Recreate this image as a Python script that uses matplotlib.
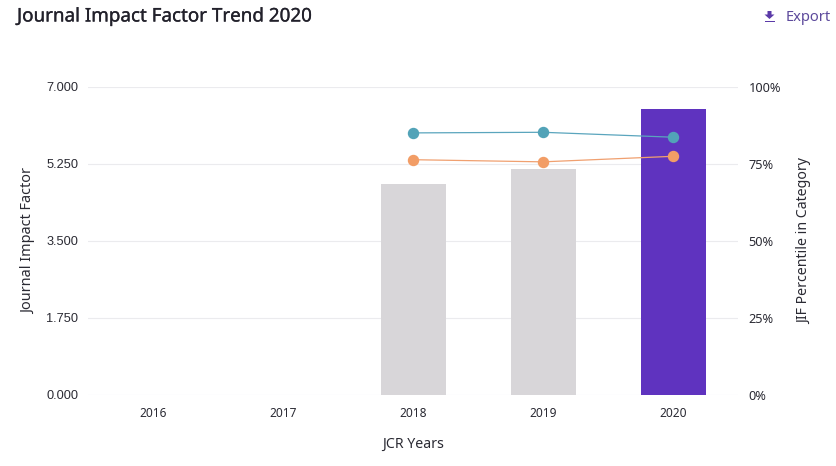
import matplotlib
matplotlib.use("Agg")
import matplotlib.pyplot as plt
import matplotlib.patheffects as pe
from matplotlib.patches import Polygon, Rectangle

years = ["2016", "2017", "2018", "2019", "2020"]
jif = [None, None, 4.795, 5.125, 6.5]
bar_colors = ["#d8d6d9", "#d8d6d9", "#d8d6d9", "#d8d6d9", "#5f33bf"]
pct_teal = [None, None, 85.0, 85.2, 83.6]
pct_orange = [None, None, 76.3, 75.6, 77.4]
left_ticks = [0, 1.75, 3.5, 5.25, 7]
left_labels = ["0.000", "1.750", "3.500", "5.250", "7.000"]
right_ticks = [0, 25, 50, 75, 100]
right_labels = ["0%", "25%", "50%", "75%", "100%"]

W, H = 836, 466
plt.rcParams["font.family"] = ["Noto Sans", "DejaVu Sans"]
fig = plt.figure(figsize=(W / 100, H / 100), dpi=100, facecolor="white")
ax = fig.add_axes([88 / W, 1 - 394.7 / H, 650 / W, 308 / H])
ax2 = ax.twinx()

xs = list(range(len(years)))
for x, v, c in zip(xs, jif, bar_colors):
    if v is not None:
        ax.bar(x, v, width=0.5, color=c, zorder=2)
ax.set_xlim(-0.5, 4.5)
ax.set_ylim(0, 7)
ax.set_xticks(xs, years)
ax.set_yticks(left_ticks, left_labels)
ax.grid(axis="y", color="#ebebee", lw=0.8, zorder=0)
ax.set_axisbelow(True)
ax.tick_params(length=0, colors="#2a2a33", labelsize=8.6)
ax.tick_params(axis="x", pad=9)
ax.tick_params(axis="y", pad=7)
for lab in ax.get_yticklabels():
    lab.set_family("Liberation Sans")
    lab.set_fontsize(9.2)
for s in ax.spines.values():
    s.set_visible(False)
ax.set_xlabel("JCR Years", fontsize=10.2, color="#2a2a33", labelpad=12)
ax.set_ylabel("Journal Impact Factor", fontsize=10.4, color="#2a2a33", labelpad=7)

ax2.set_ylim(0, 100)
ax2.set_yticks(right_ticks, right_labels)
ax2.tick_params(length=0, colors="#2a2a33", labelsize=9.2, pad=7.5)
for s in ax2.spines.values():
    s.set_visible(False)
ax2.set_ylabel("JIF Percentile in Category", fontsize=10.2, color="#2a2a33", labelpad=12)

ax2.plot(xs[2:], pct_teal[2:], color="#5aa5bd", lw=0.9, marker="o", ms=7.2,
         mfc="#52a3b8", mec="#52a3b8", zorder=5)
ax2.plot(xs[2:], pct_orange[2:], color="#f0a070", lw=0.9, marker="o", ms=7.2,
         mfc="#f29d66", mec="#f29d66", zorder=5)

fig.text(17 / W, 1 - 21.5 / H, "Journal Impact Factor Trend 2020", fontsize=13.55,
         color="#22212b", path_effects=[pe.withStroke(linewidth=0.2, foreground="#22212b")])
fig.text(786 / W, 1 - 21 / H, "Export", fontsize=10.6, color="#5d4a9c")

purple = "#5b3aa8"
def px(x, y):
    return (x / W, 1 - y / H)
fig.add_artist(Polygon([px(767.5, 11), px(771.5, 11), px(771.5, 14.5), px(774.5, 14.5),
                        px(769.5, 19), px(764.5, 14.5), px(767.5, 14.5)], closed=True,
                       transform=fig.transFigure, fc=purple, ec="none"))
fig.add_artist(Rectangle(px(764.5, 22), 10 / W, 1.3 / H, transform=fig.transFigure,
                         fc=purple, ec="none"))

fig.savefig("out.png", dpi=100)
